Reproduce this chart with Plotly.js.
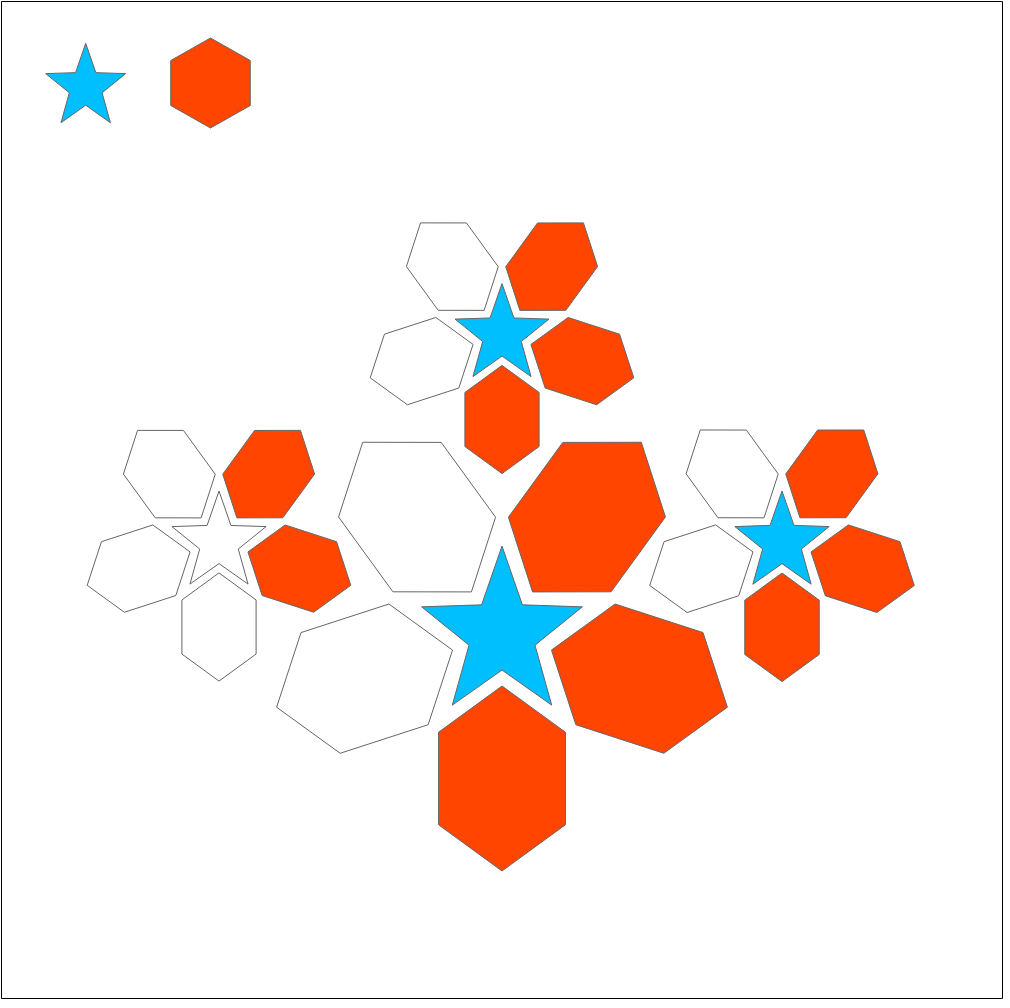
<!DOCTYPE html>
<html>
<head>
<meta charset="utf-8">
<script src="https://cdn.plot.ly/plotly-3.0.1.min.js"></script>
<style>html,body{margin:0;padding:0;background:#fff;}#chart{width:1010px;height:1008px;}</style>
</head>
<body>
<div id="chart"></div>
<script>
// ---- data ----
const flowerNames = ['centre', 'top', 'left', 'right'];
const flowerX = [502, 502, 219, 782];
const flowerY = [634, 335, 542.5, 542.5];
const flowerSize = [144.5, 84.5, 84.5, 84.8];
const starFilled = [true, true, false, true];
// petals in order: upper-left, upper-right, right, bottom, left
const petalAngles = [126, 54, -18, -90, 198];
const petalFilled = [
  [false, true, true, true, false],
  [false, true, true, true, false],
  [false, true, true, false, false],
  [false, true, true, true, false]
];
const legendShapes = ['star', 'hexagon'];
const legendX = [85.7, 210.5];
const legendY = [87.2, 83];
const legendSize = [42, 45];

// ---- styles ----
const STAR_COLOR = '#00BFFF';
const PETAL_COLOR = '#FF4500';
const EDGE = '#666666';

function starPath(cx, cy, R, r, sy) {
  const xs = [], ys = [];
  for (let i = 0; i <= 10; i++) {
    const ang = (90 + i * 36) * Math.PI / 180;
    const rad = (i % 2 === 0) ? R : r;
    xs.push(cx + rad * Math.cos(ang));
    ys.push(cy - rad * Math.sin(ang) * sy);
  }
  return {xs, ys};
}
function hexPath(cx, cy, angDeg, a, k) {
  const t = angDeg * Math.PI / 180;
  const ux = Math.cos(t), uy = Math.sin(t);
  const vx = -Math.sin(t), vy = Math.cos(t);
  const xs = [], ys = [];
  for (let i = 0; i <= 6; i++) {
    const th = i * 60 * Math.PI / 180;
    const p = a * Math.cos(th), q = k * Math.sin(th);
    xs.push(cx + p * ux + q * vx);
    ys.push(cy - (p * uy + q * vy));
  }
  return {xs, ys};
}
function shapeTrace(path, filled, color) {
  return {
    type: 'scatter', mode: 'lines', x: path.xs, y: path.ys,
    fill: 'toself', fillcolor: filled ? color : '#ffffff',
    line: {color: EDGE, width: 1}, hoverinfo: 'skip', showlegend: false
  };
}

const traces = [];
flowerNames.forEach((name, i) => {
  const d = flowerSize[i];
  petalAngles.forEach((ang, j) => {
    const t = ang * Math.PI / 180;
    const px = flowerX[i] + d * Math.cos(t);
    const py = flowerY[i] - d * Math.sin(t);
    traces.push(shapeTrace(hexPath(px, py, ang, 0.64 * d, 0.507 * d), petalFilled[i][j], PETAL_COLOR));
  });
  traces.push(shapeTrace(starPath(flowerX[i], flowerY[i], 0.585 * d, 0.24 * d, 1.04), starFilled[i], STAR_COLOR));
});
legendShapes.forEach((s, i) => {
  if (s === 'star') {
    traces.push(shapeTrace(starPath(legendX[i], legendY[i], legendSize[i], 0.41 * legendSize[i], 1.045), true, STAR_COLOR));
  } else {
    traces.push(shapeTrace(hexPath(legendX[i], legendY[i], 90, legendSize[i], legendSize[i] * 1.02), true, PETAL_COLOR));
  }
});

const layout = {
  width: 1010, height: 1008,
  margin: {l: 0, r: 0, t: 0, b: 0, pad: 0},
  paper_bgcolor: '#ffffff', plot_bgcolor: '#ffffff',
  xaxis: {range: [0, 1010], visible: false, fixedrange: true},
  yaxis: {range: [1008, 0], visible: false, fixedrange: true},
  showlegend: false,
  shapes: [{type: 'rect', xref: 'x', yref: 'y', x0: 1.5, x1: 1002.5, y0: 1.5, y1: 998.5,
            line: {color: '#000000', width: 1}, fillcolor: 'rgba(0,0,0,0)'}]
};
Plotly.newPlot('chart', traces, layout, {displayModeBar: false, staticPlot: true});
</script>
</body>
</html>
